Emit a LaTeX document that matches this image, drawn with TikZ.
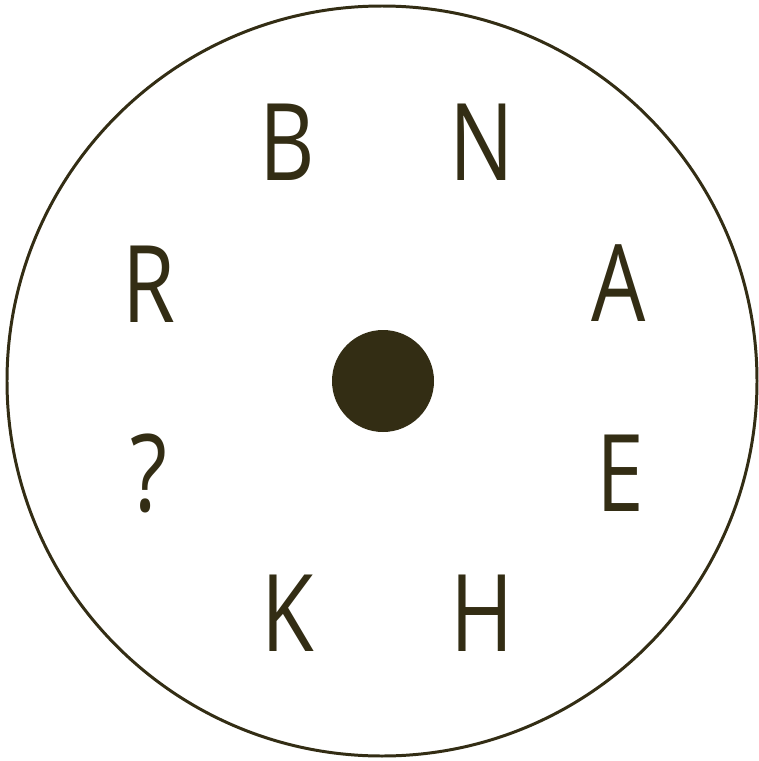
\documentclass[tikz,border=0pt]{standalone}
\usepackage{fontspec}
\setmainfont{Open Sans}[FakeStretch=0.8]
\usetikzlibrary{positioning}
\definecolor{DialInk}{HTML}{332D14}
\tikzset{letter/.style={text=DialInk,font=\fontsize{61}{61}\selectfont,inner sep=0pt},
 rim/.style={draw=DialInk,line width=1.7pt}}
\begin{document}
\begin{tikzpicture}[x=0.02cm,y=-0.02cm]
\useasboundingbox (0,0) rectangle (758,761);
% Outer rim and the hub at the centre.
\node[circle,rim,minimum size=750*0.02cm,inner sep=0pt] (rim) at (382,381) {};
\node[circle,fill=DialInk,minimum size=102*0.02cm,inner sep=0pt] (hub) at (383,381) {};
% Letters around the hub, clockwise from the top left.
\foreach \t/\x/\y [count=\i] in {B/287/142,N/482/142,A/619/283,E/620/473,
 H/482/613,K/288/613,?/149/473,R/149/284}
 {\node[letter] (l\i) at (\x,\y) {\t};}
\end{tikzpicture}
\end{document}
